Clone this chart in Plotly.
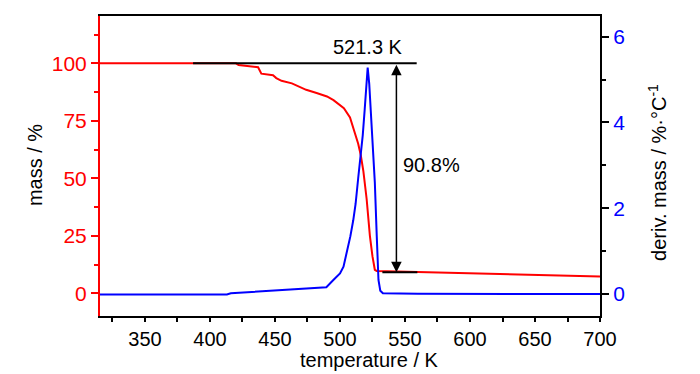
import plotly.graph_objects as go

# ---- data ----
mass_T = [315.4, 420, 422, 437, 439.5, 448.5, 451, 455, 463, 469, 474, 482, 490, 495,
          500, 503, 507.7, 511.6, 514, 516, 518, 520.5, 523, 525, 526.8, 528.2, 550,
          560, 581, 620, 654, 700]
mass_pct = [100, 100, 99.3, 98.3, 95.5, 94.8, 93.6, 92.4, 91.3, 89.6, 88.5, 87.1, 85.6, 84.0,
            82.0, 80.5, 76.5, 69.5, 65.0, 60.0, 53.0, 41.0, 25.0, 16.0, 10.2, 9.7, 9.4,
            9.2, 8.8, 8.3, 7.9, 7.3]

deriv_T = [315.4, 413, 416, 430, 450, 470, 489.5, 494.9, 498.8, 500, 502.7, 505.1, 508,
           510.2, 512, 514, 516, 517.5, 519, 520.5, 521.3, 522.5, 524, 525.7, 526.8,
           528.3, 529.6, 531, 533, 560, 700]
deriv_val = [-0.01, -0.01, 0.02, 0.05, 0.09, 0.12, 0.16, 0.33, 0.44, 0.48, 0.64, 0.95, 1.35,
             1.72, 2.1, 2.7, 3.2, 3.7, 4.3, 5.0, 5.28, 4.9, 4.1, 3.2, 2.6,
             1.34, 0.33, 0.08, 0.02, 0.01, 0.0]

peak_T = 521.3
mass_start = 100.0
mass_end = 9.1
mass_loss_label = "90.8%"
top_line_T = [387, 559]
bottom_line_T = [532.6, 559.5]
arrow_T = 543.4

x_ticks = [350, 400, 450, 500, 550, 600, 650, 700]
y_ticks = [0, 25, 50, 75, 100]
y2_ticks = [0, 2, 4, 6]

RED = "#ff0000"
BLUE = "#0000ff"
FONT = "Liberation Sans, Arial, sans-serif"

fig = go.Figure()
fig.add_trace(go.Scatter(x=mass_T, y=mass_pct, mode="lines",
                         line=dict(color=RED, width=2), yaxis="y", showlegend=False))
fig.add_trace(go.Scatter(x=deriv_T, y=deriv_val, mode="lines",
                         line=dict(color=BLUE, width=2), yaxis="y2", showlegend=False))

# annotation lines
fig.add_shape(type="line", xref="x", yref="y", x0=top_line_T[0], x1=top_line_T[1],
              y0=mass_start, y1=mass_start, line=dict(color="black", width=2))
fig.add_shape(type="line", xref="x", yref="y", x0=bottom_line_T[0], x1=bottom_line_T[1],
              y0=mass_end, y1=mass_end, line=dict(color="black", width=2))
fig.add_annotation(x=arrow_T, y=mass_end, ax=arrow_T, ay=mass_start, xref="x", yref="y",
                   axref="x", ayref="y", text="", showarrow=True, arrowhead=2,
                   arrowside="end+start", arrowsize=1.4, arrowwidth=1.5, arrowcolor="black",
                   startarrowhead=2, startarrowsize=1.4)
fig.add_annotation(x=peak_T, y=107, xref="x", yref="y", text=f"{peak_T} K", showarrow=False,
                   font=dict(family=FONT, size=20, color="black"), xanchor="center",
                   yanchor="middle")
fig.add_annotation(x=547, y=56, xref="x", yref="y", text=mass_loss_label, showarrow=False,
                   font=dict(family=FONT, size=20, color="black"), xanchor="left",
                   yanchor="middle")

# axis titles
fig.add_annotation(x=-0.13, y=0.503, xref="paper", yref="paper", text="mass / %",
                   textangle=-90, showarrow=False, font=dict(family=FONT, size=20, color="black"),
                   xanchor="center", yanchor="middle")
fig.add_annotation(x=1.116, y=0.477, xref="paper", yref="paper",
                   text="deriv. mass / %·°C<sup>-1</sup>", textangle=-90, showarrow=False,
                   font=dict(family=FONT, size=20, color="black"), xanchor="center",
                   yanchor="middle")
fig.add_annotation(x=0.538, y=-0.148, xref="paper", yref="paper", text="temperature / K",
                   showarrow=False, font=dict(family=FONT, size=20, color="black"),
                   xanchor="center", yanchor="middle")

fig.update_layout(
    width=700, height=374,
    margin=dict(l=100, r=100, t=16, b=58),
    paper_bgcolor="white", plot_bgcolor="white",
    font=dict(family=FONT, size=20, color="black"),
    xaxis=dict(range=[315.4, 700], tickvals=x_ticks, ticks="outside", ticklen=4, tickwidth=1.5,
               tickcolor="black", showline=True, linecolor="black", linewidth=2, mirror=True,
               showgrid=False, zeroline=False, tickfont=dict(size=20, color="black"),
               minor=dict(dtick=25, tick0=325, ticks="outside", ticklen=4, tickcolor="black",
                          showgrid=False)),
    yaxis=dict(range=[-9.9, 120.6], tickvals=y_ticks, ticks="outside", ticklen=7, tickwidth=1.5,
               tickcolor=RED, showline=True, linecolor=RED, linewidth=2, showgrid=False,
               zeroline=False, tickfont=dict(size=21, color=RED),
               minor=dict(dtick=12.5, tick0=12.5, ticks="outside", ticklen=4, tickcolor=RED,
                          showgrid=False)),
    yaxis2=dict(range=[-0.51, 6.48], tickvals=y2_ticks, overlaying="y", side="right",
                ticks="outside", ticklen=7, tickwidth=1.5, tickcolor="black", showline=True,
                linecolor="black", linewidth=2, showgrid=False, zeroline=False,
                tickfont=dict(size=21, color=BLUE),
                minor=dict(dtick=1, tick0=1, ticks="outside", ticklen=4, tickcolor="black",
                           showgrid=False)),
)

fig.write_html("out.html", config={"displayModeBar": False},
               post_script="document.body.style.margin='0';document.body.style.padding='0';")
